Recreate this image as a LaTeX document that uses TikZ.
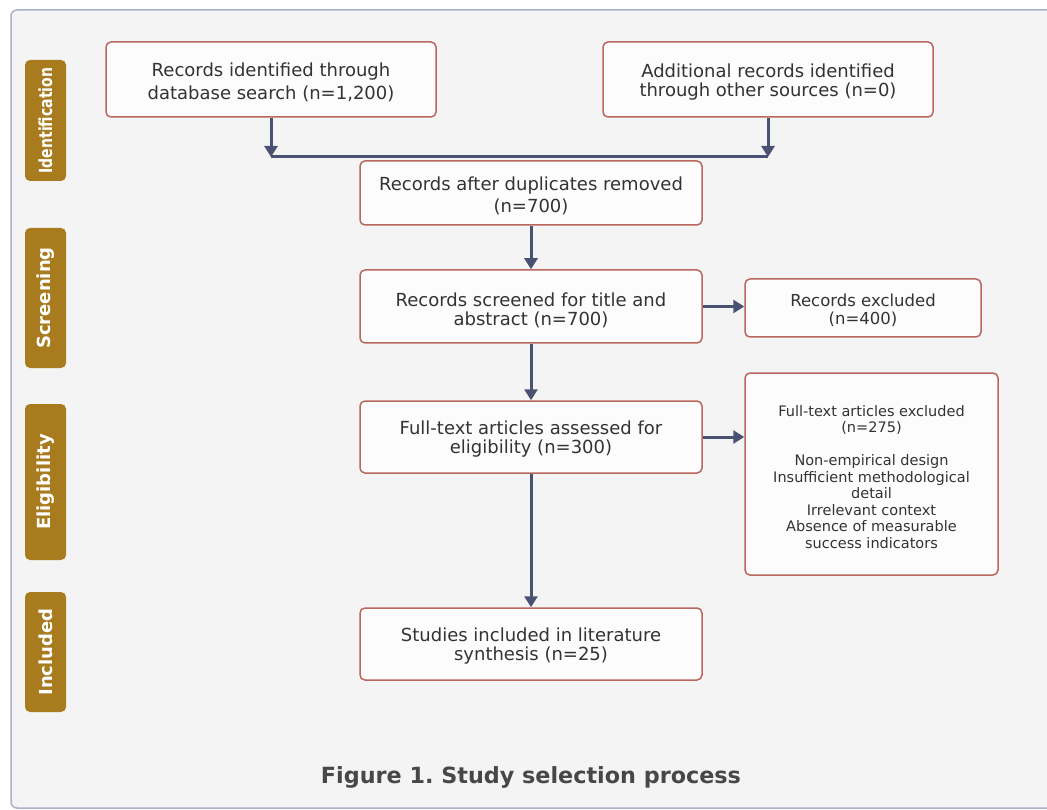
\documentclass[tikz,border=0pt]{standalone}
\usepackage{fontspec}
\setmainfont{DejaVu Sans}
\usetikzlibrary{arrows.meta}
\definecolor{framebg}{HTML}{F4F4F4}
\definecolor{frameline}{HTML}{A9B1C8}
\definecolor{boxline}{HTML}{B9675F}
\definecolor{flowcol}{HTML}{4A5273}
\definecolor{phasecol}{HTML}{A87B1F}
\definecolor{txtcol}{HTML}{333333}
\tikzset{
	recbox/.style={draw=boxline, line width=1.5pt, fill=white!99!black, rounded corners=5pt, inner sep=0pt},
	boxtext/.style={align=center, inner sep=0pt, text=txtcol, yshift=-2.5pt, font=\fontsize{18}{19}\selectfont},
	phase/.style={fill=phasecol, rounded corners=5pt, rotate=90, minimum height=41pt,
		inner sep=0pt, text=white, font=\bfseries\fontsize{18}{21}\selectfont},
	flow/.style={draw=flowcol, line width=3pt, -{Triangle[length=11pt,width=13pt]}},
	link/.style={draw=flowcol, line width=3pt}
}

\begin{document}
\begin{tikzpicture}[x=1pt, y=-1pt]
	%%%%% START %%%%%
	\useasboundingbox[fill=white] (0, 0) rectangle (1047, 810);
	
	\draw[fill=framebg, draw=frameline, line width=1.5pt, rounded corners=6pt] (11, 10) rectangle (1060, 808);
	
	% phases
	\node[phase, minimum width=121pt] (identph) at (45.5, 120.5) {\scalebox{0.78}[1]{Identification}};
	\node[phase, minimum width=140pt] (screenph) at (45.5, 298) {Screening};
	\node[phase, minimum width=156pt] (eligph) at (45.5, 482) {Eligibility};
	\node[phase, minimum width=120pt] (inclph) at (45.5, 652) {Included};
	
	% boxes
	\node[recbox, minimum width=330pt, minimum height=75pt,
		label={[boxtext, font=\fontsize{18}{23}\selectfont]center:{Records identified through\\database search (n=1,200)}}] (dbrec) at (271, 79.5) {};
	\node[recbox, minimum width=330pt, minimum height=75pt,
		label={[boxtext]center:{Additional records identified\\through other sources (n=0)}}] (otherrec) at (768, 79.5) {};
	\node[recbox, minimum width=342pt, minimum height=64pt,
		label={[boxtext, font=\fontsize{18}{22}\selectfont]center:{Records after duplicates removed\\(n=700)}}] (dedup) at (531, 193) {};
	\node[recbox, minimum width=342pt, minimum height=73pt,
		label={[boxtext, yshift=-1pt]center:{Records screened for title and\\abstract (n=700)}}] (screened) at (531, 306.5) {};
	\node[recbox, minimum width=236pt, minimum height=58pt,
		label={[boxtext, yshift=0.5pt, font=\fontsize{16.5}{18}\selectfont]center:{Records excluded\\(n=400)}}] (excl) at (863, 308) {};
	\node[recbox, minimum width=342pt, minimum height=72pt,
		label={[boxtext]center:{Full-text articles assessed for\\eligibility (n=300)}}] (fulltext) at (531, 437) {};
	\node[recbox, minimum width=253pt, minimum height=202pt,
		label={[boxtext, yshift=-0.5pt, font=\fontsize{14.5}{16.5}\selectfont]center:{Full-text articles excluded\\(n=275)\\[16.5pt]Non-empirical design\\Insufficient methodological\\detail\\Irrelevant context\\Absence of measurable\\success indicators}}] (ftexcl) at (871.5, 474) {};
	\node[recbox, minimum width=342pt, minimum height=72pt,
		label={[boxtext]center:{Studies included in literature\\synthesis (n=25)}}] (included) at (531, 644) {};
	
	% connectors
	\coordinate (join) at (531, 157);
	\draw[flow] (dbrec) -- (dbrec |- join);
	\draw[flow] (otherrec) -- (otherrec |- join);
	\draw[link] (dbrec |- join) -- (otherrec |- join);
	\draw[flow] (dedup) -- (screened);
	\draw[flow] (screened.east) -- (screened.east -| excl.west);
	\draw[flow] (screened) -- (fulltext);
	\draw[flow] (fulltext.east) -- (fulltext.east -| ftexcl.west);
	\draw[flow] (fulltext) -- (included);
	
	\node[text=txtcol!90!white, font=\bfseries\fontsize{22.3}{26}\selectfont] (caption) at (531, 777) {Figure 1.\ Study selection process};
	%%%%% END %%%%%
\end{tikzpicture}
\end{document}
